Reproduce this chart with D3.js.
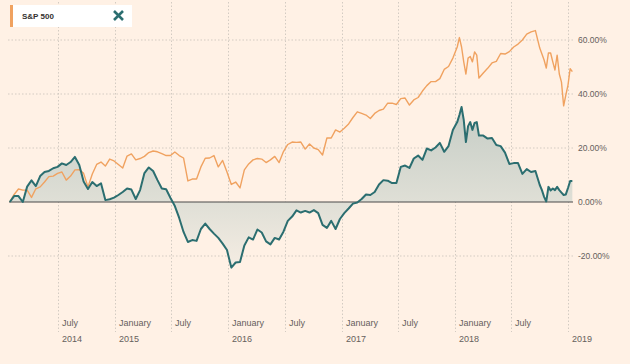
<!DOCTYPE html>
<html><head><meta charset="utf-8">
<script src="https://cdn.jsdelivr.net/npm/d3@7"></script>
<style>
html,body{margin:0;padding:0;background:#fff1e5;}
svg{display:block;font-family:"Liberation Sans",Arial,sans-serif;}
</style></head><body>
<svg id="chart" width="630" height="364"></svg>
<script>
const dates = [
"2014-01-27","2014-02-10","2014-02-24","2014-03-10","2014-03-24","2014-04-07","2014-04-21","2014-05-05","2014-05-19","2014-06-02","2014-06-16","2014-06-30","2014-07-14","2014-07-28","2014-08-11","2014-08-25","2014-09-08","2014-09-22","2014-10-06","2014-10-20","2014-11-03","2014-11-17","2014-12-01","2014-12-15","2014-12-29",
"2015-01-12","2015-01-26","2015-02-09","2015-02-23","2015-03-09","2015-03-23","2015-04-06","2015-04-20","2015-05-04","2015-05-18","2015-06-01","2015-06-15","2015-06-29","2015-07-13","2015-07-27","2015-08-10","2015-08-24","2015-09-07","2015-09-21","2015-10-05","2015-10-19","2015-11-02","2015-11-16","2015-11-30","2015-12-14","2015-12-28",
"2016-01-11","2016-01-25","2016-02-08","2016-02-22","2016-03-07","2016-03-21","2016-04-04","2016-04-18","2016-05-02","2016-05-16","2016-05-30","2016-06-13","2016-06-27","2016-07-11","2016-07-25","2016-08-08","2016-08-22","2016-09-05","2016-09-19","2016-10-03","2016-10-17","2016-10-31","2016-11-14","2016-11-28","2016-12-12","2016-12-26",
"2017-01-09","2017-01-23","2017-02-06","2017-02-20","2017-03-06","2017-03-20","2017-04-03","2017-04-17","2017-05-01","2017-05-15","2017-05-29","2017-06-12","2017-06-26","2017-07-10","2017-07-24","2017-08-07","2017-08-21","2017-09-04","2017-09-18","2017-10-02","2017-10-16","2017-10-30","2017-11-13","2017-11-27","2017-12-11","2017-12-25",
"2018-01-08","2018-01-15","2018-01-22","2018-01-29","2018-02-05","2018-02-12","2018-02-19","2018-02-26","2018-03-05","2018-03-12","2018-03-19",
"2018-04-02","2018-04-16","2018-04-30","2018-05-14","2018-05-28","2018-06-11","2018-06-25","2018-07-09","2018-07-23","2018-08-06","2018-08-20","2018-09-03","2018-09-17",
"2018-10-01","2018-10-08","2018-10-15","2018-10-22","2018-10-29","2018-11-05","2018-11-12","2018-11-19","2018-11-26","2018-12-03","2018-12-10","2018-12-17","2018-12-24","2018-12-31","2019-01-07","2019-01-14"
];
const stock = [
0,2.2,2.2,0,5.7,8.0,5.9,9.6,11.1,11.5,12.5,13.0,14.3,13.7,14.8,16.7,13.7,7.6,4.8,7.4,5.9,6.9,0.7,1.0,1.6,
2.6,3.7,5.0,4.6,1.1,4.4,10.7,12.8,11.5,8.1,5.0,4.7,1.5,-1.5,-5.9,-11.1,-14.8,-14.1,-14.4,-10.0,-8.0,-10.0,-11.7,-13.3,-15.4,-17.8,
-24.3,-22.4,-22.2,-16.1,-13.1,-13.9,-10.2,-11.3,-14.6,-15.7,-13.3,-13.9,-11.0,-7.0,-5.4,-3.1,-3.9,-3.3,-3.9,-3.0,-4.1,-8.5,-9.6,-7.0,-10.0,-6.3,
-4.1,-2.4,-0.6,-0.2,1.1,2.8,2.6,3.7,6.5,8.1,7.9,7.0,7.0,13.0,13.5,12.6,16.1,17.2,15.6,19.8,19.1,20.2,21.9,18.6,20.7,26.7,
29.6,32.2,35.2,30.4,22.2,28.1,29.6,26.7,29.3,29.6,24.6,
24.6,23.5,23.7,21.1,20.7,18.3,14.1,14.4,14.4,10.4,12.2,11.1,11.5,
6.3,4.4,1.9,0.2,5.6,4.3,5.0,4.4,5.6,4.4,3.5,2.6,2.8,5.2,7.8,7.8
];
const sp500 = [
0,2.8,4.8,4.4,4.4,1.7,4.9,5.6,7.4,9.4,9.6,10.6,11.1,8.1,9.6,11.9,12.0,10.6,5.6,10.4,13.9,14.8,13.3,15.9,15.2,
13.9,12.6,17.0,17.8,15.6,16.1,16.9,18.3,18.9,18.6,17.9,17.2,17.2,18.5,17.2,16.3,7.8,8.5,8.5,13.0,16.2,16.3,17.2,13.0,15.4,11.1,
6.5,7.4,5.2,11.9,14.1,15.6,16.1,15.9,14.6,15.6,16.9,14.6,18.7,21.3,22.2,22.1,22.2,19.6,21.5,20.0,19.4,17.4,23.7,23.7,26.7,25.9,
27.3,28.9,31.3,33.4,32.8,32.2,30.9,32.8,33.9,34.4,36.6,36.6,36.1,38.3,38.5,35.9,37.8,38.7,41.1,43.1,44.6,44.6,45.7,49.1,50.2,53.3,
57.4,60.9,57.4,51.9,47.4,53.3,53.9,51.9,55.6,54.4,45.9,
47.8,49.5,51.5,52.1,55.0,54.8,55.7,57.4,58.5,60.0,62.2,63.0,63.5,
57.0,54.8,52.6,49.6,55.2,55.2,51.9,48.9,54.4,47.4,44.4,35.6,39.6,43.3,49.4,48.3
];
const yTicks = [-20,0,20,40,60];
const xTickDates = ["2014-07-01","2015-01-01","2015-07-01","2016-01-01","2016-07-01","2017-01-01","2017-07-01","2018-01-01","2018-07-01","2019-01-01"];
const xTickLine1 = ["July","January","July","January","July","January","July","January","July",""];
const xTickLine2 = ["2014","2015","","2016","","2017","","2018","","2019"];
const legendLabel = "S&P 500";

const parse = d3.utcParse("%Y-%m-%d");
const data = dates.map((d,i)=>({date:parse(d), stock:stock[i], sp:sp500[i]}));

const svg = d3.select("#chart");
svg.append("rect").attr("width",630).attr("height",364).attr("fill","#fff1e5");

const x = d3.scaleUtc().domain([parse("2014-01-01"), parse("2019-01-01")]).range([1.7, 568.3]);
const y = d3.scaleLinear().domain([-20,60]).range([256,40]);

const defs = svg.append("defs");
const grad = defs.append("linearGradient").attr("id","ag")
  .attr("gradientUnits","userSpaceOnUse").attr("x1",0).attr("x2",0).attr("y1",100).attr("y2",275);
grad.append("stop").attr("offset",0).attr("stop-color","#c3cbc4");
grad.append("stop").attr("offset",0.58).attr("stop-color","#dfdfd6");
grad.append("stop").attr("offset",1).attr("stop-color","#f7eee4");

// grid
const grid = svg.append("g");
grid.selectAll("line.h").data(yTicks.filter(t=>t!==0)).join("line")
  .attr("x1",8).attr("x2",575).attr("y1",d=>y(d)).attr("y2",d=>y(d))
  .attr("stroke","#d3cbc2").attr("stroke-width",1).attr("stroke-dasharray","1.5,2");
grid.selectAll("line.v").data(xTickDates).join("line")
  .attr("x1",d=>Math.round(x(parse(d)))+0.5).attr("x2",d=>Math.round(x(parse(d)))+0.5)
  .attr("y1",2).attr("y2",332)
  .attr("stroke","#d3cbc2").attr("stroke-width",1).attr("stroke-dasharray","1.5,2");

// area
const area = d3.area().x(d=>x(d.date)).y0(y(0)).y1(d=>y(d.stock));
svg.append("path").datum(data).attr("d",area).attr("fill","url(#ag)");

// zero line
svg.append("line").attr("x1",9).attr("x2",573).attr("y1",y(0)).attr("y2",y(0))
  .attr("stroke","#4a4a4a").attr("stroke-width",1.2);

// lines
const lineSp = d3.line().x(d=>x(d.date)).y(d=>y(d.sp));
const lineSt = d3.line().x(d=>x(d.date)).y(d=>y(d.stock));
svg.append("path").datum(data).attr("d",lineSp).attr("fill","none")
  .attr("stroke","#f0a260").attr("stroke-width",1.4).attr("stroke-linejoin","round");
svg.append("path").datum(data).attr("d",lineSt).attr("fill","none")
  .attr("stroke","#2b6e70").attr("stroke-width",2).attr("stroke-linejoin","round");

// y labels
svg.append("g").selectAll("text").data(yTicks).join("text")
  .attr("x",578).attr("y",d=>y(d)+3)
  .attr("font-size",8.5).attr("fill","#66605c")
  .text(d=>d.toFixed(2)+"%");

// x labels
const xl = svg.append("g");
xTickDates.forEach((d,i)=>{
  const px = Math.round(x(parse(d)))+4;
  if (xTickLine1[i]) xl.append("text").attr("x",px).attr("y",326).attr("font-size",9).attr("fill","#66605c").text(xTickLine1[i]);
  if (xTickLine2[i]) xl.append("text").attr("x",px).attr("y",342).attr("font-size",9).attr("fill","#66605c").text(xTickLine2[i]);
});

// legend
const lg = svg.append("g");
lg.append("rect").attr("x",12).attr("y",5).attr("width",120).attr("height",22).attr("fill","#ffffff");
lg.append("rect").attr("x",10).attr("y",5).attr("width",3).attr("height",22).attr("fill","#f0a260");
lg.append("text").attr("x",22).attr("y",19).attr("font-size",8).attr("font-weight","bold").attr("fill","#33302e").text(legendLabel);
lg.append("path").attr("d","M114,11L123,20M123,11L114,20").attr("stroke","#2b6e70").attr("stroke-width",2.6).attr("fill","none");
</script>
</body></html>
